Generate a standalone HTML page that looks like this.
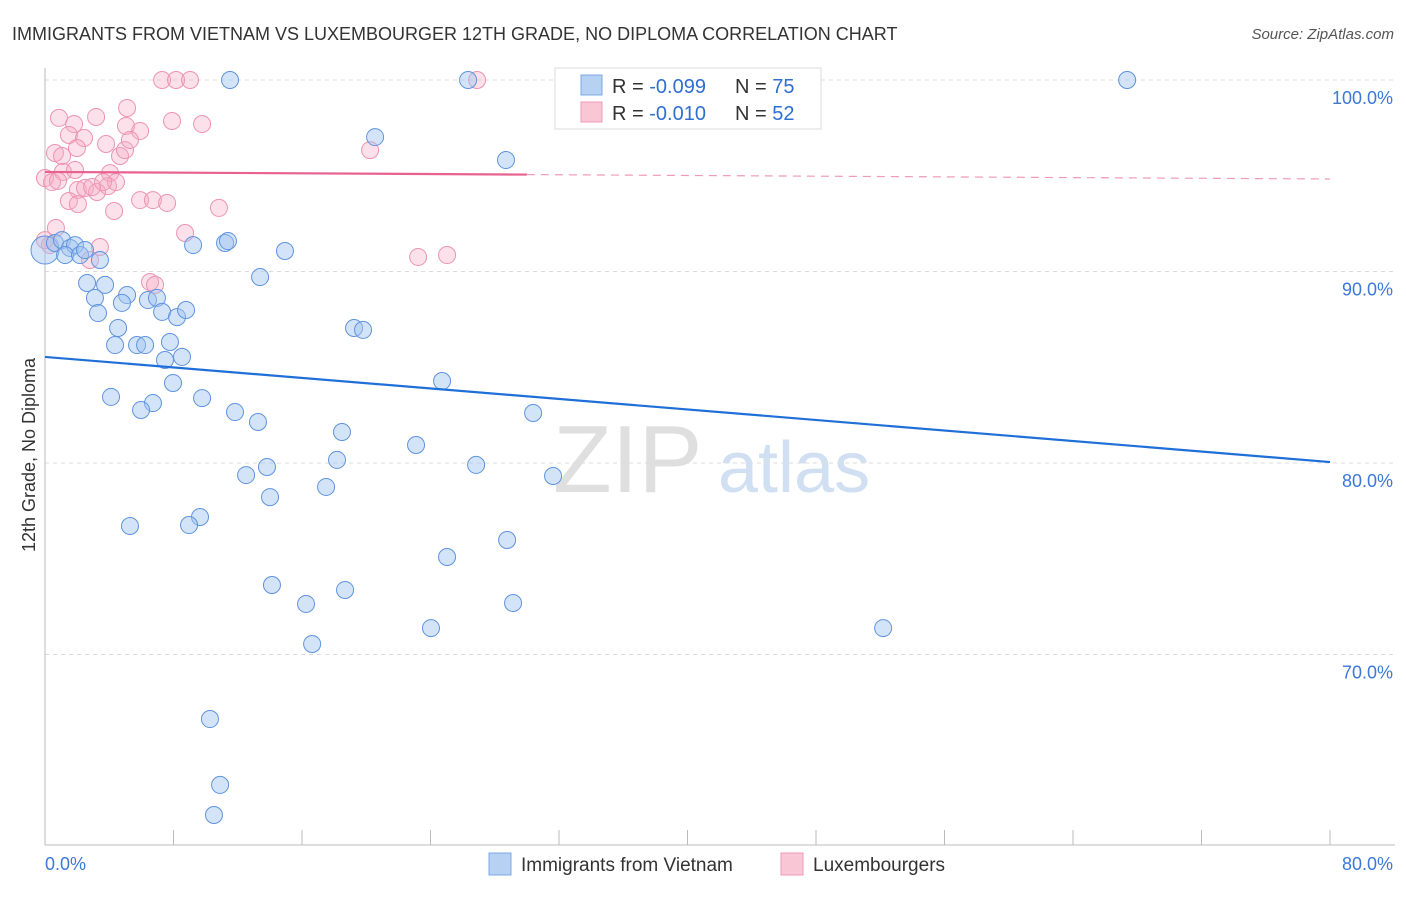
<!DOCTYPE html>
<html><head><meta charset="utf-8"><style>
body{margin:0;background:#fff;font-family:"Liberation Sans",sans-serif}
svg text{font-family:"Liberation Sans",sans-serif}
</style></head><body>
<svg id="chart" width="1406" height="892" xmlns="http://www.w3.org/2000/svg">
<text x="12" y="40" font-size="18" fill="#333">IMMIGRANTS FROM VIETNAM VS LUXEMBOURGER 12TH GRADE, NO DIPLOMA CORRELATION CHART</text>
<text x="1394" y="39" font-size="15" fill="#555" text-anchor="end" font-style="italic">Source: ZipAtlas.com</text>
<g>
<text x="553" y="492" font-size="96" fill="#d8d8d8" font-family="Liberation Serif" opacity="0.8">ZIP</text>
<text x="718" y="492" font-size="72" fill="#c5d8f0" opacity="0.8">atlas</text>
</g>
<g id="grid"></g>
<g id="axes"></g>
<g id="marks"></g>
<g>
<rect x="555" y="68" width="266" height="61" fill="#fff" stroke="#ddd"/>
<rect x="581" y="75" width="21" height="20" fill="#b7d1f3" stroke="#7da8e6"/>
<rect x="581" y="102" width="21" height="20" fill="#f9c6d5" stroke="#ef9ab7"/>
<text x="612" y="93" font-size="20" fill="#333">R = <tspan fill="#2f6fd1">-0.099</tspan></text>
<text x="735" y="93" font-size="20" fill="#333">N = <tspan fill="#2f6fd1">75</tspan></text>
<text x="612" y="120" font-size="20" fill="#333">R = <tspan fill="#2f6fd1"> -0.010</tspan></text>
<text x="735" y="120" font-size="20" fill="#333">N = <tspan fill="#2f6fd1">52</tspan></text>
</g>
<g>
<rect x="489" y="853" width="22" height="22" fill="#b7d1f3" stroke="#7da8e6"/>
<text x="521" y="871" font-size="19" fill="#333">Immigrants from Vietnam</text>
<rect x="781" y="853" width="22" height="22" fill="#f9c6d5" stroke="#ef9ab7"/>
<text x="813" y="871" font-size="19" fill="#333">Luxembourgers</text>
</g>
<text transform="translate(35,455) rotate(-90)" font-size="18" fill="#333" text-anchor="middle">12th Grade, No Diploma</text>
</svg>
<script>
const yTicks=[100,90,80,70];
const yTickLabels=["100.0%","90.0%","80.0%","70.0%"];
const xTickLabels=["0.0%","80.0%"];
const blueX=[11.52,26.34,67.37,20.55,28.70,0.0,0.62,1.06,1.56,1.87,1.25,2.18,3.42,9.22,11.21,11.39,14.94,13.39,2.62,3.74,3.11,5.11,3.30,4.79,6.41,6.97,7.29,8.22,8.78,4.55,4.36,5.73,6.23,7.78,7.47,8.53,19.24,19.80,24.72,7.97,4.11,9.78,6.72,5.98,11.83,13.26,30.39,18.49,23.10,18.18,13.82,12.52,26.84,31.63,17.50,14.01,9.65,5.29,8.97,28.77,25.03,14.13,18.68,16.25,29.14,24.03,52.18,16.63,10.27,10.90,10.52,2.49];
const blueY=[100,100,100,97.02,95.82,91.12,91.49,91.64,91.23,91.38,90.86,90.86,90.60,91.38,91.49,91.59,91.07,89.71,89.40,89.30,88.62,88.77,87.83,88.36,88.51,88.62,87.89,87.62,87.99,87.05,86.16,86.16,86.16,86.32,85.38,85.54,87.05,86.95,84.28,84.18,83.45,83.39,83.13,82.77,82.66,82.14,82.61,81.62,80.94,80.16,79.79,79.37,79.90,79.32,78.75,78.22,77.18,76.71,76.76,75.98,75.09,73.63,73.37,72.64,72.69,71.38,71.38,70.55,66.63,63.19,61.62,91.12];
const pinkX=[7.29,8.16,9.03,26.90,5.11,0.87,1.81,3.18,7.91,9.78,5.92,5.04,1.49,2.43,20.24,3.80,4.67,1.99,0.62,1.06,4.98,1.12,4.05,0,0.44,0.81,2.05,2.49,3.24,3.92,4.42,1.49,2.05,4.30,5.92,6.72,7.60,10.83,0.68,3.42,8.72,2.80,0,6.54,6.85,23.23,25.03,0.31,2.93,3.61,5.29,1.87];
const pinkY=[100,100,100,100,98.54,98.02,97.70,98.07,97.86,97.70,97.34,97.60,97.13,96.97,96.34,96.66,96.03,96.45,96.19,96.03,96.34,95.20,95.14,94.88,94.67,94.73,94.26,94.36,94.15,94.46,94.67,93.68,93.52,93.16,93.73,93.73,93.58,93.32,92.27,91.28,92.01,90.60,91.64,89.45,89.30,90.76,90.86,91.38,94.41,94.67,96.87,95.30];
const blueTrend=[85.54,80.05];
const pinkTrend=[95.20,94.83];
const pinkSolidEnd=30;
const NS="http://www.w3.org/2000/svg";
const X0=45,X1=1330,Y100=80,PXPER=19.15;
function sx(v){return X0+v/80*(X1-X0);}
function sy(v){return Y100+(100-v)*PXPER;}
function mk(t,a,p){const e=document.createElementNS(NS,t);for(const k in a)e.setAttribute(k,a[k]);p.appendChild(e);return e;}
const grid=document.getElementById('grid'),axes=document.getElementById('axes'),marks=document.getElementById('marks');
yTicks.forEach((t,i)=>{
 const l=mk('line',{x1:X0,x2:1395,y1:sy(t),y2:sy(t),stroke:'#dcdcdc','stroke-dasharray':'4,4'},grid);
 
 
 const tx=mk('text',{x:1393,y:sy(t)+24,'font-size':18,fill:'#3b78d8','text-anchor':'end'},axes);
 tx.textContent=yTickLabels[i];
 
 
});
const ya=mk('line',{x1:X0,x2:X0,y1:68,y2:845,stroke:'#bbb'},axes);


const xa=mk('line',{x1:X0,x2:1395,y1:845,y2:845,stroke:'#bbb'},axes);


for(let i=0;i<=10;i++){const tk=mk('line',{x1:sx(i*8),x2:sx(i*8),y1:830,y2:845,stroke:'#bbb'},axes);
 
 }
const xl0=mk('text',{x:45,y:870,'font-size':18,fill:'#3b78d8'},axes);xl0.textContent=xTickLabels[0];


const xl1=mk('text',{x:1393,y:870,'font-size':18,fill:'#3b78d8','text-anchor':'end'},axes);xl1.textContent=xTickLabels[1];


pinkX.forEach((x,i)=>{const c=mk('circle',{cx:sx(x),cy:sy(pinkY[i]),r:8.5,fill:'rgba(246,170,196,0.35)',stroke:'#ec94b2','stroke-width':1},marks);
 
 });
blueX.forEach((x,i)=>{const c=mk('circle',{cx:sx(x),cy:sy(blueY[i]),r:i==5?14:8.5,fill:'rgba(160,195,240,0.45)',stroke:'#5f93de','stroke-width':1},marks);
 
 });
const bl=mk('line',{x1:sx(0),y1:sy(blueTrend[0]),x2:sx(80),y2:sy(blueTrend[1]),stroke:'#1f6fd9','stroke-width':2.2},marks);


const pm=pinkTrend[0]+(pinkTrend[1]-pinkTrend[0])*pinkSolidEnd/80;
const pl=mk('line',{x1:sx(0),y1:sy(pinkTrend[0]),x2:sx(pinkSolidEnd),y2:sy(pm),stroke:'#e8628e','stroke-width':2.2},marks);


const pd=mk('line',{x1:sx(pinkSolidEnd),y1:sy(pm),x2:sx(80),y2:sy(pinkTrend[1]),stroke:'#ef9ab7','stroke-width':1.2,'stroke-dasharray':'8,6'},marks);


</script>
</body></html>
